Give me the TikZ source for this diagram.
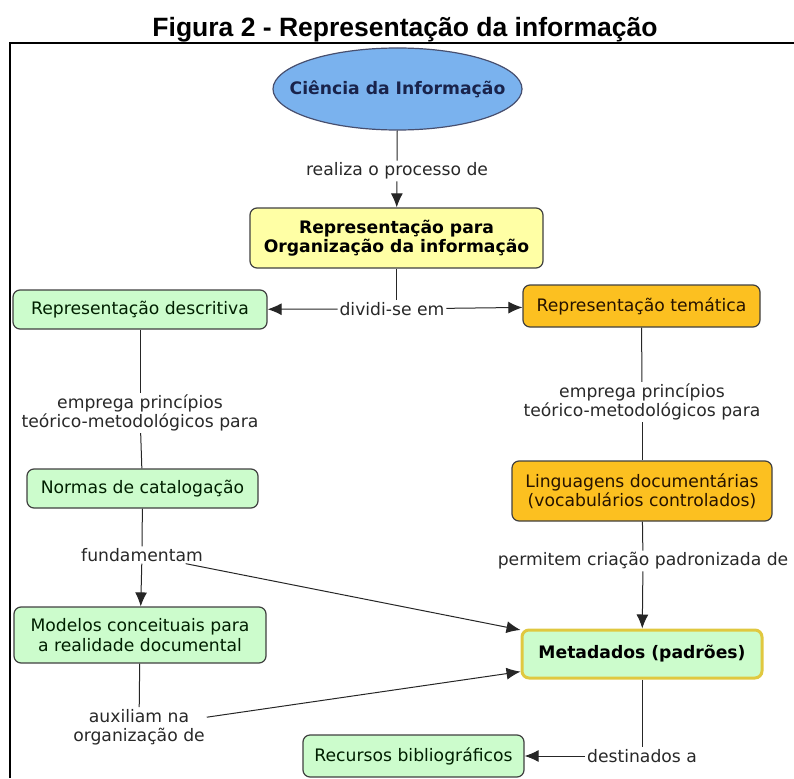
\documentclass[tikz,border=0pt]{standalone}
\usepackage{fontspec}
\setmainfont{DejaVu Sans}
\newfontfamily\titlefont{Liberation Sans}
\usetikzlibrary{shapes.geometric,arrows.meta}

\definecolor{cblue}{RGB}{122,178,238}
\definecolor{cnavy}{RGB}{25,35,75}
\definecolor{cyellow}{RGB}{255,255,165}
\definecolor{cgreen}{RGB}{204,252,204}
\definecolor{corange}{RGB}{252,192,32}
\definecolor{cgold}{RGB}{224,200,64}
\definecolor{ctext}{RGB}{40,40,40}

\tikzset{
  concept/.style={
    % The shape:
    rectangle,
    rounded corners=7pt,
    % The border:
    line width=1.2pt,
    draw=black!75,
    % Font
    font=\fontsize{17.2}{20}\selectfont,
    align=center,
    inner sep=0pt
  },
  greenbox/.style={concept, fill=cgreen, text=black!80!green!60!black},
  orangebox/.style={concept, fill=corange, text=black!85!orange},
  linkword/.style={
    font=\fontsize{17.2}{19}\selectfont,
    text=ctext,
    align=center,
    inner sep=1.5pt
  },
  arrow/.style={-{Latex[length=14pt,width=12pt]}}
}

\begin{document}
\begin{tikzpicture}[x=1pt, y=-1pt, line width=1pt, draw=black!85]

  \useasboundingbox (0,0) rectangle (794,778);

  % title and frame
  \node (title) [anchor=base, font=\titlefont\bfseries\fontsize{26.5}{29}\selectfont] at (405, 37) {Figura 2 - Representação da informação};
  \draw [line width=2.2pt, draw=black] (10, 778) -- (10, 43) -- (794, 43);

  % concepts
  \node at (397.5, 89) (cie) [ellipse, fill=cblue, draw=cnavy!80, line width=1.2pt, minimum width=249, minimum height=82, inner xsep=-22pt, inner ysep=0pt, text=cnavy, font=\bfseries\fontsize{17.2}{20}\selectfont] {Ciência da Informação};
  \node at (396.5, 238) (rep) [concept, fill=cyellow, minimum width=293, minimum height=60, font=\bfseries\fontsize{17.2}{19}\selectfont] {Representação para\\Organização da informação};
  \node at (140, 309.5) (desc) [greenbox, minimum width=254, minimum height=39] {Representação descritiva};
  \node at (641.5, 306) (tem) [orangebox, minimum width=237, minimum height=42] {Representação temática};
  \node at (142.5, 488.5) (norm) [greenbox, minimum width=231, minimum height=39] {Normas de catalogação};
  \node at (642, 491) (ling) [orangebox, minimum width=260, minimum height=60, font=\fontsize{17.2}{19.5}\selectfont] {Linguagens documentárias\\(vocabulários controlados)};
  \node at (140, 635) (mod) [greenbox, minimum width=252, minimum height=56, font=\fontsize{17.2}{20}\selectfont] {Modelos conceituais para\\a realidade documental};
  \node at (642, 654) (meta) [concept, fill=cgreen, draw=cgold, line width=3pt, minimum width=240, minimum height=48, font=\bfseries\fontsize{17.2}{20}\selectfont] {Metadados (padrões)};
  \node at (413.5, 756) (rec) [greenbox, minimum width=221, minimum height=42] {Recursos bibliográficos};

  % linking words
  \node at (397, 171) (realiza) [linkword] {realiza o processo de};
  \node at (392, 309) (div) [linkword] {dividi-se em};
  \node at (140, 413) (empl) [linkword] {emprega princípios\\teórico-metodológicos para};
  \node at (642, 402) (empr) [linkword] {emprega princípios\\teórico-metodológicos para};
  \node at (142, 555) (fund) [linkword] {fundamentam};
  \node at (643, 561) (perm) [linkword] {permitem criação padronizada de};
  \node at (139, 727) (aux) [linkword] {auxiliam na\\organização de};
  \node at (642, 756) (dest) [linkword] {destinados a};

  % connections
  \draw (cie) to (realiza);
  \draw [arrow] (realiza) to (rep);
  \draw (rep.south) to (rep.south |- div.north);
  \draw [arrow] (div) to (desc);
  \draw [arrow] (div) to (tem);

  \draw (desc) to (empl);
  \draw (empl) to (norm);
  \draw (norm) to (fund);
  \draw [arrow] (fund) to (mod);
  \draw [arrow] (fund) to (meta);
  \draw (mod) to (aux);
  \draw [arrow] (aux) to (meta);

  \draw (tem) to (empr);
  \draw (empr) to (ling);
  \draw (ling) to (perm);
  \draw [arrow] (perm) to (meta);
  \draw (meta) to (dest);
  \draw [arrow] (dest) to (rec);

\end{tikzpicture}
\end{document}
